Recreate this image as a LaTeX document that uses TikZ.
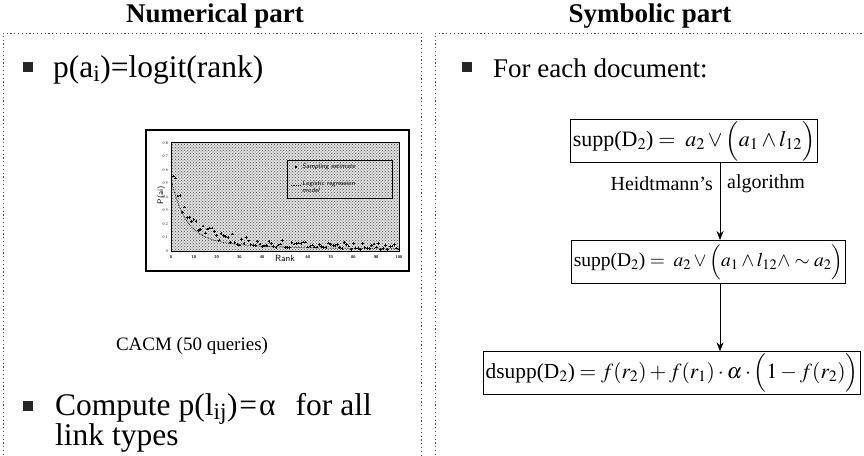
\documentclass[tikz,border=0pt]{standalone}
\usepackage{mathptmx}
\usepackage{fontspec}
\setmainfont{Liberation Serif}
\usetikzlibrary{patterns,arrows.meta}
\tikzset{
  dotbox/.style={draw=black!70, line width=0.7pt, dash pattern=on 1.2pt off 2.6pt},
  bulletsq/.style={fill=black!85, minimum size=10pt, inner sep=0pt, draw=none},
  bigtxt/.style={anchor=base west, inner sep=0pt, font=\fontsize{31.5}{36}\selectfont},
  midtxt/.style={anchor=base west, inner sep=0pt, font=\fontsize{27}{31}\selectfont},
  ttl/.style={font=\bfseries\fontsize{27}{31}\selectfont, inner sep=0pt},
  fbox/.style={draw, line width=0.8pt, inner sep=2pt, font=\fontsize{22}{26}\selectfont},
  lbl/.style={font=\fontsize{20}{24}\selectfont, inner sep=0pt},
  arr/.style={line width=0.8pt, -{Stealth[length=9pt,width=7pt]}},
  tiny/.style={font=\sffamily\bfseries\fontsize{4}{4.5}\selectfont, inner sep=0pt},
  legtxt/.style={font=\sffamily\itshape\fontsize{6.5}{7}\selectfont, anchor=west, inner sep=0pt, align=left}
}
\begin{document}
\begin{tikzpicture}[x=1pt,y=-1pt]
\useasboundingbox (0,0) rectangle (864,455);
% titles
\node[ttl] (t1) at (215,16) {Numerical part};
\node[ttl] (t2) at (650,16) {Symbolic part};
% dotted frames
\draw[dotbox] (3,455) -- (3,33) -- (421,33) -- (421,455);
\draw[dotbox] (435,455) -- (435,33) -- (866,33);
% left bullets
\node[bulletsq] (b1) at (28,67) {};
\node[bigtxt] (p1) at (53,77) {p(a\textsubscript{i})=logit(rank)};
\node[font=\fontsize{19}{23}\selectfont, inner sep=0pt] (cacm) at (192,346) {CACM (50 queries)};
\node[bulletsq] (b2) at (28,406) {};
\node[bigtxt] (p2) at (55,415) {Compute p(l\textsubscript{ij})\kern2pt=\kern2ptα\hspace{20pt}for all};
\node[bigtxt] (p3) at (55,445) {link types};
% plot
\node[draw, line width=1.2pt, minimum width=263pt, minimum height=141pt, inner sep=0pt] (plot) at (277.5,200.5) {};
\fill[black!12] (171,142) rectangle (399,251);
\fill[pattern=crosshatch dots, pattern color=black!70] (171,142) rectangle (399,251);
\draw[line width=0.4pt] (171,142) rectangle (399,251);
\foreach \i [evaluate=\i as \yy using 251-\i*13.5, evaluate=\i as \lab using \i/10] in {0,...,8}
  {\node[tiny, anchor=east] (yl\i) at (168,\yy) {\pgfmathprintnumber[fixed,precision=1]{\lab}};}
\foreach \i [evaluate=\i as \xx using 171+\i*22.8, evaluate=\i as \lab using int(\i*10)] in {0,1,2,3,4,6,7,8,9,10}
  {\node[tiny] (xl\i) at (\xx,257) {\lab};}
\node[font=\sffamily\fontsize{9}{10}\selectfont, inner sep=0pt] (rank) at (285,258) {Rank};
\node[font=\sffamily\fontsize{8}{9}\selectfont, inner sep=0pt, rotate=90] (pai) at (161,195) {P(ai)};
\pgfmathsetseed{11}
\foreach \r in {1,...,100}{
  \pgfmathsetmacro\v{max(0.01, 0.45*exp(-\r/7)+0.07*exp(-\r/40)+0.15*rnd*(0.35+0.65*exp(-\r/25)))}
  \pgfmathsetmacro\px{171+\r*2.28}
  \pgfmathsetmacro\py{251-\v*135}
  \draw[black, line width=0.7pt] (\px-1.3,\py) -- (\px+1.3,\py) (\px,\py-1.3) -- (\px,\py+1.3);
}
\draw[densely dotted, line width=0.7pt] plot[domain=0.2:100, samples=90] ({171+\x*2.28},{251-135*(0.015+0.42*exp(-\x/6)+0.1*exp(-\x/25))});
\draw[line width=0.6pt] (287,160) rectangle (392,198);
\fill (295,166) rectangle (297,168);
\node[legtxt] (lg1) at (302,167) {Sampling estimate};
\draw[densely dotted, line width=0.7pt] (291,185) -- (300,185);
\node[legtxt, anchor=north west] (lg2) at (302,181) {Logistic regression\\model};
% right side
\node[bulletsq] (b3) at (467,67) {};
\node[midtxt] (q1) at (493,77) {For each document:};
\coordinate (ax) at (720,0);
\node[fbox] (f1) at (694,141) {supp(D$_2$)$\;=\;a_2\vee\Bigl(a_1\wedge l_{12}\Bigr)$};
\node[fbox, font=\fontsize{19.5}{24}\selectfont, inner ysep=4pt] (f2) at (708.5,262) {supp(D$_2$)$\;=\;a_2\vee\Bigl(a_1\wedge l_{12}\wedge\sim a_2\Bigr)$};
\node[fbox, font=\fontsize{21.4}{25}\selectfont] (f3) at (672,373) {dsupp(D$_2$)$\;=f(r_2)+f(r_1)\cdot\alpha\cdot\Bigl(1-f(r_2)\Bigr)$};
\draw[arr] (f1.south -| ax) -- (f2.north -| ax);
\draw[arr] (f2.south -| ax) -- (f3.north -| ax);
\node[lbl, anchor=east] (h1) at (713,184) {Heidtmann's};
\node[lbl, anchor=west] (h2) at (727,184) {algorithm};
\end{tikzpicture}
\end{document}
